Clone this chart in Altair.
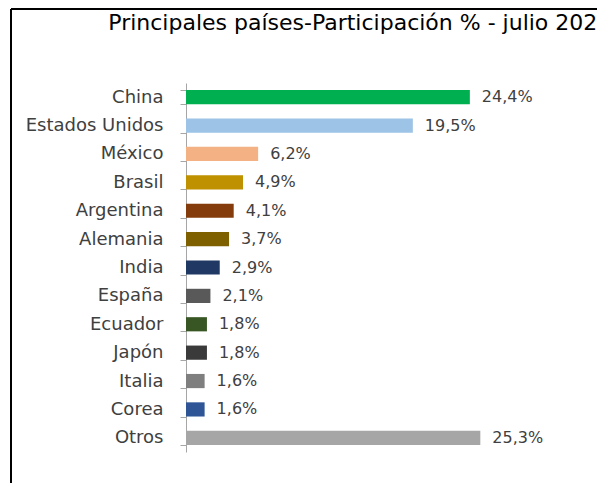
import altair as alt
import pandas as pd

countries = ["China", "Estados Unidos", "México", "Brasil", "Argentina", "Alemania",
             "India", "España", "Ecuador", "Japón", "Italia", "Corea", "Otros"]
values = [24.4, 19.5, 6.2, 4.9, 4.1, 3.7, 2.9, 2.1, 1.8, 1.8, 1.6, 1.6, 25.3]
labels = ["24,4%", "19,5%", "6,2%", "4,9%", "4,1%", "3,7%", "2,9%", "2,1%",
          "1,8%", "1,8%", "1,6%", "1,6%", "25,3%"]
colors = ["#00B050", "#9DC3E6", "#F4B183", "#BF9000", "#843C0C", "#7F6000",
          "#1F3864", "#595959", "#375623", "#3A3A3A", "#7F7F7F", "#2F5597", "#A6A6A6"]

df = pd.DataFrame({"pais": countries, "valor": values, "etiqueta": labels})

FONT = "DejaVu Sans"
W, H = 349, 369

y_enc = alt.Y("pais:N", sort=countries, title=None,
              scale=alt.Scale(paddingInner=0.5, paddingOuter=0.25),
              axis=alt.Axis(labelFontSize=18, labelColor="#404040", labelFont=FONT,
                            labelPadding=17, tickSize=6, tickColor="#A6A6A6",
                            domainColor="#A6A6A6", tickBand="extent", grid=False))
x_enc = alt.X("valor:Q", scale=alt.Scale(domain=[0, 30]), axis=None)

bars = alt.Chart(df).mark_bar().encode(
    x=x_enc, y=y_enc,
    color=alt.Color("pais:N", scale=alt.Scale(domain=countries, range=colors), legend=None),
)

text = alt.Chart(df).mark_text(align="left", baseline="middle", dx=12, fontSize=16,
                               font=FONT, color="#404040").encode(
    x=x_enc, y=alt.Y("pais:N", sort=countries), text="etiqueta:N")

frame_left = alt.Chart(df).mark_rule(color="black", strokeWidth=1.5).encode(
    x=alt.value(-175), y=alt.value(-74), y2=alt.value(H + 100))
frame_top = alt.Chart(df).mark_rule(color="black", strokeWidth=1.5).encode(
    x=alt.value(-175), x2=alt.value(W + 100), y=alt.value(-74))

chart = alt.layer(frame_left, frame_top, bars, text).properties(
    width=W, height=H,
    title=alt.TitleParams("Principales países-Participación % - julio 2021",
                          anchor="start", dx=98, offset=0, dy=26.5, fontSize=22,
                          font=FONT, fontWeight="normal", color="#000000"),
    autosize=alt.AutoSizeParams(type="none"),
    padding={"left": 178, "top": 75, "right": 62, "bottom": 31},
).configure_view(stroke=None)

chart.save("out.html", embed_options={"renderer": "svg", "actions": False})
